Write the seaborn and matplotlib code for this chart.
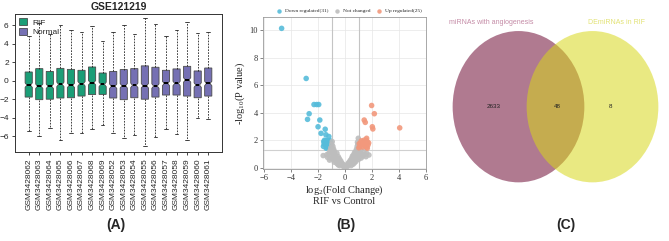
import numpy as np
import pandas as pd
import matplotlib
matplotlib.use("Agg")
import matplotlib.pyplot as plt
from matplotlib.patches import Ellipse, Patch
import seaborn as sns

# ---- panel A: per-sample box summaries (GSE121219) ----
samples = ["GSM3428062", "GSM3428063", "GSM3428064", "GSM3428065", "GSM3428066",
           "GSM3428067", "GSM3428068", "GSM3428069", "GSM3428052", "GSM3428053",
           "GSM3428054", "GSM3428055", "GSM3428056", "GSM3428057", "GSM3428058",
           "GSM3428059", "GSM3428060", "GSM3428061"]
groups = ["RIF"] * 8 + ["Normal"] * 10
q3 = [0.94, 1.30, 1.00, 1.33, 1.22, 1.12, 1.48, 0.83, 1.00, 1.20,
      1.30, 1.60, 1.45, 1.12, 1.27, 1.55, 1.05, 1.37]
med = [-0.48, -0.60, -0.60, -0.40, -0.50, -0.33, -0.22, -0.40, -0.60, -0.55,
       -0.50, -0.55, -0.58, -0.30, -0.30, 0.08, -0.47, -0.30]
q1 = [-1.77, -2.05, -2.00, -1.87, -1.84, -1.66, -1.50, -1.48, -1.87, -2.05,
      -1.84, -2.00, -1.77, -1.55, -1.55, -1.66, -1.84, -1.66]
whi_hi = [4.80, 6.20, 5.00, 6.05, 5.45, 5.30, 5.90, 4.30, 5.26, 6.00,
          5.00, 6.77, 6.10, 4.80, 5.44, 6.34, 5.20, 5.26]
whi_lo = [-5.40, -6.00, -5.10, -6.45, -5.60, -5.65, -5.20, -4.75, -5.66, -6.20,
          -5.84, -7.10, -6.10, -5.20, -5.73, -6.45, -4.00, -4.14]
group_colors = {"RIF": "#1B9E77", "Normal": "#7570B3"}

# ---- panel B: volcano points ----
down_x = [-4.7, -2.88, -2.3, -2.1, -1.95, -2.66, -2.78, -1.87, -2.0, -1.78, -1.47,
          -1.42, -1.2, -1.52, -1.4, -1.28, -1.12, -1.55, -1.45, -1.32, -1.18, -1.05,
          -1.6, -1.35, -1.48, -1.25, -1.4, -1.1, -1.58, -1.22, -1.03]
down_y = [10.15, 6.5, 4.6, 4.6, 4.6, 3.93, 3.52, 3.47, 2.98, 2.5, 2.8,
          2.4, 2.27, 2.0, 1.98, 1.97, 1.97, 1.72, 1.68, 1.75, 1.7, 1.8,
          1.55, 1.5, 1.88, 1.6, 1.42, 1.55, 1.9, 1.85, 1.65]
up_x = [1.97, 2.17, 1.42, 1.5, 2.02, 2.06, 4.05, 1.6, 1.55, 1.65, 1.05, 1.15, 1.25,
        1.35, 1.45, 1.55, 1.7, 1.1, 1.3, 1.6, 1.75, 1.2, 1.4, 1.02, 1.65]
up_y = [4.53, 3.93, 3.47, 3.3, 2.98, 2.82, 2.9, 2.14, 2.0, 1.9, 1.75, 1.8, 1.7,
        1.85, 1.6, 1.75, 1.65, 1.55, 1.5, 1.5, 1.8, 1.95, 2.0, 1.45, 1.42]
ns_x = [-1.62, -1.35, -1.2, -1.1, -1.05, -0.98, -0.95, -0.9, -0.85, -0.8, -0.78,
        -0.72, -0.9, -1.1, -0.65, -0.6, -0.55, -0.5, -0.45, -0.42, -0.38, -0.32,
        -0.3, -0.25, -0.2, -0.15, -0.12, -0.08, -0.05, 0.0, -0.7, -0.85, -1.0,
        -0.95, -1.3, -0.6, -0.5, -0.4, -0.8, -1.15,
        0.05, 0.1, 0.15, 0.2, 0.25, 0.3, 0.35, 0.4, 0.45, 0.5, 0.55, 0.6, 0.65,
        0.7, 0.75, 0.8, 0.85, 0.88, 0.9, 0.95, 0.98, 0.92, 1.0, 1.05, 1.1, 1.2,
        1.3, 1.45, 1.6, 1.77, 1.2, 1.0, 0.8, 0.6, 0.45, 0.7, 1.4, 1.15, 0.85, 1.55]
ns_y = [0.88, 0.95, 1.05, 1.25, 1.45, 1.7, 1.9, 1.55, 1.35, 1.2, 1.0,
        0.85, 0.75, 0.7, 0.7, 1.05, 0.55, 0.8, 0.45, 0.65, 0.35, 0.5,
        0.25, 0.35, 0.18, 0.25, 0.1, 0.05, 0.12, 0.02, 0.5, 0.6, 0.9,
        1.1, 0.75, 0.3, 0.2, 0.15, 0.4, 0.55,
        0.08, 0.15, 0.05, 0.25, 0.35, 0.2, 0.45, 0.55, 0.35, 0.7, 0.85, 0.5, 0.95,
        1.1, 0.75, 1.2, 1.35, 1.0, 1.55, 1.7, 2.14, 1.85, 1.25, 0.95, 1.1, 1.0,
        0.85, 0.95, 1.05, 0.92, 0.7, 0.6, 0.45, 0.25, 0.15, 0.35, 1.2, 1.3, 0.7, 0.8]
fc_cut = 1.0
p_cut = 1.3

# ---- panel C: venn counts ----
set_names = ["miRNAs with angiogenesis", "DEmiRNAs in RIF"]
venn_counts = [2633, 48, 8]

sns.set_style("white")
plt.rcParams["font.family"] = ["Liberation Sans", "DejaVu Sans"]

fig = plt.figure(figsize=(6.69, 2.41), dpi=100)

# ===== (A) boxplot =====
axA = fig.add_axes([0.0224, 0.3693, 0.3094, 0.5726])
stats = []
for i, s in enumerate(samples):
    stats.append(dict(label=s, med=med[i], q1=q1[i], q3=q3[i],
                      whislo=whi_lo[i], whishi=whi_hi[i],
                      cilo=med[i] - 0.24, cihi=med[i] + 0.24, fliers=[]))
bp = axA.bxp(stats, positions=np.arange(1, len(samples) + 1), widths=0.68,
             shownotches=True, patch_artist=True, showfliers=False,
             boxprops=dict(edgecolor="#4a4a4a", linewidth=0.6),
             whiskerprops=dict(linestyle=(0, (2, 1.5)), linewidth=0.6, color="#222222"),
             capprops=dict(linewidth=0.6, color="#222222"),
             medianprops=dict(color="black", linewidth=1.4))
for patch, g in zip(bp["boxes"], groups):
    patch.set_facecolor(group_colors[g])
axA.set_xlim(-0.3, len(samples) + 1.3)
axA.set_ylim(-7.7, 7.2)
axA.set_yticks([-6, -4, -2, 0, 2, 4, 6])
axA.set_xticks(np.arange(1, len(samples) + 1))
axA.set_xticklabels(samples, rotation=90, fontsize=6)
axA.tick_params(axis="both", labelsize=6, length=2.5, width=0.6, pad=2,
                bottom=True, left=True, direction="out")
for sp in axA.spines.values():
    sp.set_color("#333333")
    sp.set_linewidth(0.7)
axA.set_title("GSE121219", fontsize=7.5, fontweight="bold", pad=3)
handles = [Patch(facecolor=group_colors[g], edgecolor="#333333", linewidth=0.5, label=g)
           for g in ["RIF", "Normal"]]
axA.legend(handles=handles, loc="upper left", frameon=False, fontsize=6,
           handlelength=1.0, handleheight=0.9, handletextpad=0.6,
           labelspacing=0.15, borderaxespad=0.3, borderpad=0.2)

# ===== (B) volcano =====
axB = fig.add_axes([0.3927, 0.2975, 0.2441, 0.6332])
lab_down = f"Down regulated({len(down_x)})"
lab_ns = "Not changed"
lab_up = f"Up regulated({len(up_x)})"
vol = pd.DataFrame({
    "log2fc": down_x + ns_x + up_x,
    "logp": down_y + ns_y + up_y,
    "group": [lab_down] * len(down_x) + [lab_ns] * len(ns_x) + [lab_up] * len(up_x),
})
palette = {lab_down: "#56BCDA", lab_ns: "#BDBDBD", lab_up: "#F2987C"}
axB.grid(True, color="#e6e6e6", linewidth=0.5)
axB.set_axisbelow(True)
axB.axvline(-fc_cut, color="#c4c4c4", linewidth=0.8, zorder=1)
axB.axvline(fc_cut, color="#c4c4c4", linewidth=0.8, zorder=1)
axB.axhline(p_cut, color="#d0d0d0", linewidth=0.8, zorder=1)
sns.scatterplot(data=vol, x="log2fc", y="logp", hue="group",
                hue_order=[lab_down, lab_ns, lab_up], palette=palette,
                s=16, linewidth=0, alpha=0.9, ax=axB, zorder=3)
axB.set_xlim(-6.1, 6.0)
axB.set_ylim(-0.12, 11.0)
axB.set_xticks([-6, -4, -2, 0, 2, 4, 6])
axB.set_yticks([0, 2, 4, 6, 8, 10])
for lbl in axB.get_xticklabels() + axB.get_yticklabels():
    lbl.set_family("Liberation Serif")
    lbl.set_fontsize(6)
    lbl.set_color("#333333")
axB.tick_params(axis="both", length=2, width=0.5, pad=1.5, bottom=True, left=True,
                color="#555555")
for sp in axB.spines.values():
    sp.set_color("#9a9a9a")
    sp.set_linewidth(0.6)
axB.set_xlabel("log$\\mathregular{_2}$(Fold Change)\nRIF vs Control",
               family="Liberation Serif", fontsize=7.5, labelpad=1, linespacing=1.0)
axB.set_ylabel("-log$\\mathregular{_{10}}$(P value)", family="Liberation Serif",
               fontsize=7.5, labelpad=2)
sns.move_legend(axB, "lower center", bbox_to_anchor=(0.52, 1.0), ncol=3,
                frameon=False, title=None, prop={"family": "Liberation Serif", "size": 3.9},
                handletextpad=0.1, columnspacing=0.6, borderaxespad=0.2, markerscale=0.8)

# ===== (C) venn =====
axC = fig.add_axes([440 / 669, 1 - 200 / 241, 229 / 669, 200 / 241])
axC.set_xlim(440, 669)
axC.set_ylim(200, 0)
axC.axis("off")
axC.add_patch(Ellipse((518.5, 106.7), 131.7, 151.3, facecolor="#6D0933",
                      alpha=0.54, edgecolor="none"))
axC.add_patch(Ellipse((592.5, 106.7), 131.7, 151.3, facecolor="#D8D818",
                      alpha=0.54, edgecolor="none"))
axC.text(491.7, 22.7, set_names[0], color="#C48BA6", fontsize=5, ha="center", va="center")
axC.text(616.7, 22.7, set_names[1], color="#E2E274", fontsize=5, ha="center", va="center")
for xpos, n in zip([494, 557, 610.3], venn_counts):
    axC.text(xpos, 106.7, str(n), fontsize=4.5, ha="center", va="center", color="#222222")

# panel tags
for xpix, tag in [(116, "(A)"), (346, "(B)"), (566, "(C)")]:
    fig.text(xpix / 669, 1 - 225 / 241, tag, fontsize=10, fontweight="bold",
             ha="center", va="center")

fig.savefig("out.png", dpi=100)
